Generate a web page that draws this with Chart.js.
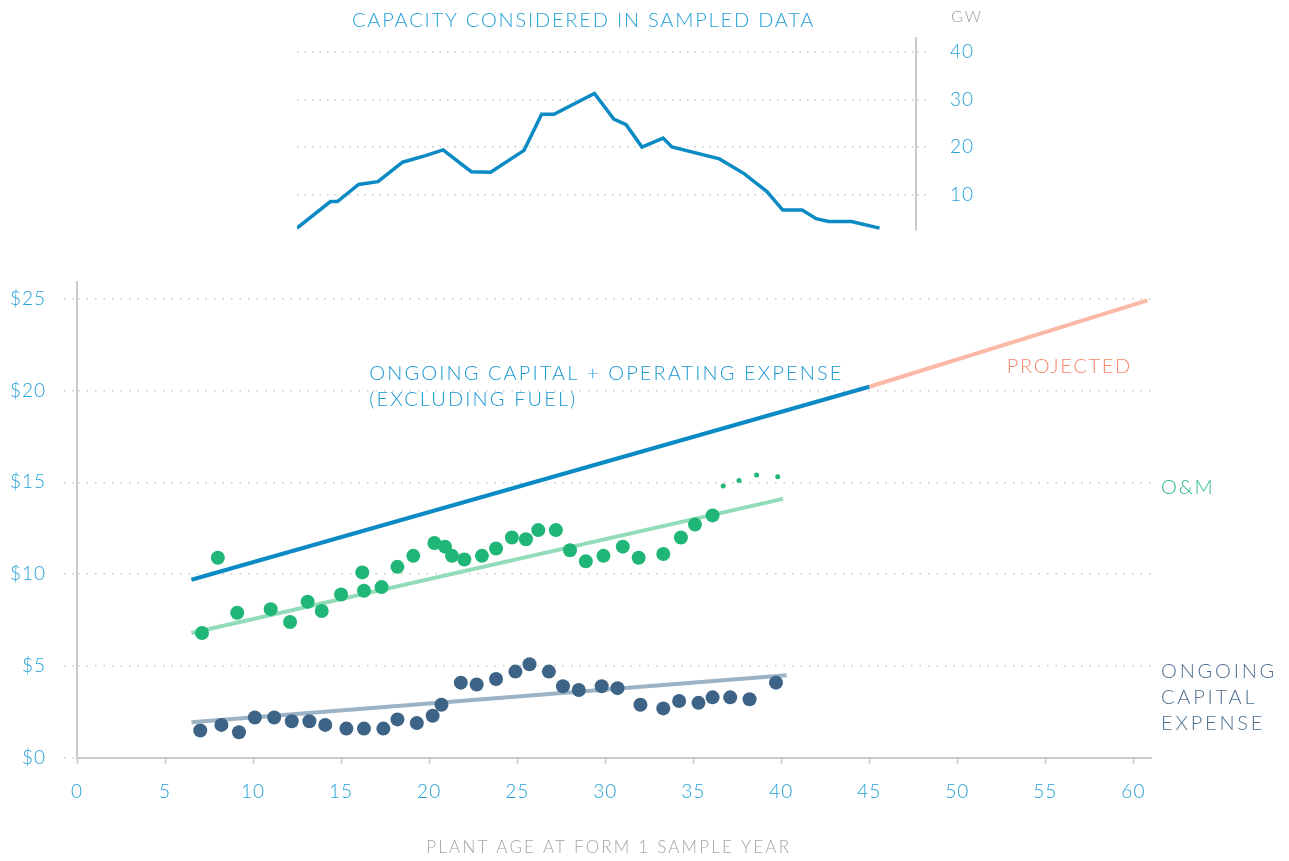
<!DOCTYPE html>
<html>
<head>
<meta charset="utf-8">
<script src="https://cdn.jsdelivr.net/npm/chart.js@4"></script>
<style>
  body { margin: 0; background: #fff; }
  .wrap { position: relative; width: 1289px; height: 861px; }
  canvas { position: absolute; left: 0; }
  #capacity { top: 0; }
  #costs { top: 250px; }
</style>
</head>
<body>
<div class="wrap">
  <canvas id="capacity" width="1289" height="250"></canvas>
  <canvas id="costs" width="1289" height="611"></canvas>
</div>
<script>
// capacity in sample (GW) by plant age
const capAge = [12.5, 14.4, 14.8, 16.0, 17.1, 18.5, 19.8, 20.8, 22.4, 23.5, 25.4, 26.4, 27.1, 29.4,
                30.5, 31.2, 32.1, 33.3, 33.8, 36.5, 37.9, 39.2, 40.1, 41.2, 42.0, 42.7, 44.0, 45.6];
const capGW  = [2.9, 8.5, 8.5, 12.1, 12.7, 16.8, 18.2, 19.4, 14.8, 14.7, 19.3, 26.9, 26.9, 31.3,
                25.9, 24.7, 20.0, 21.9, 20.0, 17.5, 14.4, 10.6, 6.7, 6.7, 4.9, 4.3, 4.3, 2.9];
const gwTicks = [10, 20, 30, 40];

// O&M cost points ($/kW-yr)
const omAge = [7.1, 8.0, 9.1, 11.0, 12.1, 13.1, 13.9, 15.0, 16.2, 16.3, 17.3, 18.2, 19.1, 20.3, 20.9,
               21.3, 22.0, 23.0, 23.8, 24.7, 25.5, 26.2, 27.2, 28.0, 28.9, 29.9, 31.0, 31.9, 33.3,
               34.3, 35.1, 36.1];
const omCost = [6.8, 10.9, 7.9, 8.1, 7.4, 8.5, 8.0, 8.9, 10.1, 9.1, 9.3, 10.4, 11.0, 11.7, 11.5,
                11.0, 10.8, 11.0, 11.4, 12.0, 11.9, 12.4, 12.4, 11.3, 10.7, 11.0, 11.5, 10.9, 11.1,
                12.0, 12.7, 13.2];
const omThinAge = [36.7, 37.6, 38.6, 39.8];
const omThinCost = [14.8, 15.1, 15.4, 15.3];

// ongoing capital expense points
const capexAge = [7.0, 8.2, 9.2, 10.1, 11.2, 12.2, 13.2, 14.1, 15.3, 16.3, 17.4, 18.2, 19.3, 20.2,
                  20.7, 21.8, 22.7, 23.8, 24.9, 25.7, 26.8, 27.6, 28.5, 29.8, 30.7, 32.0, 33.3,
                  34.2, 35.3, 36.1, 37.1, 38.2, 39.7];
const capexCost = [1.5, 1.8, 1.4, 2.2, 2.2, 2.0, 2.0, 1.8, 1.6, 1.6, 1.6, 2.1, 1.9, 2.3,
                   2.9, 4.1, 4.0, 4.3, 4.7, 5.1, 4.7, 3.9, 3.7, 3.9, 3.8, 2.9, 2.7,
                   3.1, 3.0, 3.3, 3.3, 3.2, 4.1];

// fitted trends
const totalAge = [6.5, 45];
const totalCost = [9.7, 20.2];
const projAge = [45, 60.8];
const projCost = [20.2, 24.9];
const omTrendAge = [6.5, 40.1];
const omTrendCost = [6.8, 14.1];
const capexTrendAge = [6.5, 40.3];
const capexTrendCost = [1.95, 4.5];

const ageTicks = [0, 5, 10, 15, 20, 25, 30, 35, 40, 45, 50, 55, 60];
const costTicks = [0, 5, 10, 15, 20, 25];

const pts = (xs, ys) => xs.map((x, i) => ({ x: x, y: ys[i] }));

const FONT = 'Lato, "Open Sans", sans-serif';
const BLUE = '#23a0d6';
const GRIDC = '#c9c9c9';
const AXISC = '#c7cad0';

function spacedText(ctx, text, x, y, opts) {
    ctx.save();
    ctx.font = opts.font;
    ctx.fillStyle = opts.color;
    ctx.letterSpacing = (opts.spacing || 0) + 'px';
    ctx.textAlign = opts.align || 'left';
    ctx.textBaseline = 'middle';
    ctx.fillText(text, x, y);
    ctx.restore();
}

// a little tracking on the tick labels too
const tracking = {
    id: 'tracking',
    beforeDraw(chart) { chart.ctx.letterSpacing = '1px'; },
    afterDraw(chart) { chart.ctx.letterSpacing = '0px'; }
};

// top: capacity line
const capLabels = {
    id: 'capLabels',
    afterDraw(chart) {
        const ctx = chart.ctx;
        spacedText(ctx, 'CAPACITY CONSIDERED IN SAMPLED DATA', 352, 21,
            { font: '300 20px ' + FONT, color: BLUE, spacing: 1.8 });
        spacedText(ctx, 'GW', 951, 17, { font: '300 16px ' + FONT, color: '#9a9ca0', spacing: 2 });
    }
};

new Chart(document.getElementById('capacity'), {
    type: 'line',
    data: {
        datasets: [{
            data: pts(capAge, capGW),
            borderColor: '#0b8ac4',
            borderWidth: 3.5,
            pointRadius: 0,
            tension: 0
        }]
    },
    options: {
        responsive: false,
        animation: false,
        layout: { padding: { left: 297, top: 38, bottom: 20, right: 0 } },
        plugins: { legend: { display: false }, tooltip: { enabled: false } },
        scales: {
            x: { type: 'linear', display: false, min: 12.5, max: 47.67 },
            y: {
                position: 'right',
                min: 2.5, max: 43,
                afterBuildTicks: s => { s.ticks = gwTicks.map(v => ({ value: v })); },
                afterFit: s => { s.width = 373; s.paddingTop = 0; s.paddingBottom = 0; },
                border: { display: true, color: AXISC, width: 2, dash: [1.5, 6] },
                grid: { color: GRIDC, lineWidth: 1.5, drawTicks: true, tickLength: 11,
                        tickColor: GRIDC, tickBorderDash: [1.5, 6] },
                ticks: { color: BLUE, padding: 23, font: { family: FONT, size: 19, weight: 300 } }
            }
        }
    },
    plugins: [tracking, capLabels]
});

// bottom: cost per kW by age
const costLabels = {
    id: 'costLabels',
    afterDraw(chart) {
        const ctx = chart.ctx;
        const x = chart.scales.x, y = chart.scales.y;
        const f = '300 20px ' + FONT;
        spacedText(ctx, 'ONGOING CAPITAL + OPERATING EXPENSE', x.getPixelForValue(16.6), y.getPixelForValue(20.9),
            { font: f, color: '#1b98d2', spacing: 2.1 });
        spacedText(ctx, '(EXCLUDING FUEL)', x.getPixelForValue(16.6), y.getPixelForValue(19.5),
            { font: f, color: '#1b98d2', spacing: 2.1 });
        spacedText(ctx, 'PROJECTED', x.getPixelForValue(52.8), y.getPixelForValue(21.3),
            { font: f, color: '#f5866b', spacing: 1.7 });
        const lx = chart.chartArea.right + 10;
        spacedText(ctx, 'O&M', lx, y.getPixelForValue(14.7), { font: f, color: '#2bbb83', spacing: 1.8 });
        ['ONGOING', 'CAPITAL', 'EXPENSE'].forEach((t, i) => {
            spacedText(ctx, t, lx, y.getPixelForValue(4.72) + i * 26, { font: f, color: '#4d6e8f', spacing: 2.8 });
        });
        spacedText(ctx, 'PLANT AGE AT FORM 1 SAMPLE YEAR', x.getPixelForValue(30.2), chart.height - 13,
            { font: '300 17px ' + FONT, color: '#a2a4a8', spacing: 2.2, align: 'center' });
    }
};

new Chart(document.getElementById('costs'), {
    type: 'scatter',
    data: {
        datasets: [
            { data: pts(capexAge, capexCost), backgroundColor: '#3d6486', pointRadius: 7, pointBorderWidth: 0, order: 1 },
            { data: pts(omAge, omCost), backgroundColor: '#20b678', pointRadius: 7, pointBorderWidth: 0, order: 1 },
            { data: pts(omThinAge, omThinCost), backgroundColor: '#20b678', pointRadius: 2.5, pointBorderWidth: 0, order: 1 },
            { type: 'line', data: pts(totalAge, totalCost), borderColor: '#0b8ac4', borderWidth: 4, pointRadius: 0, order: 2 },
            { type: 'line', data: pts(projAge, projCost), borderColor: '#fcb8a7', borderWidth: 4, pointRadius: 0, order: 2 },
            { type: 'line', data: pts(omTrendAge, omTrendCost), borderColor: '#92dcbb', borderWidth: 4, pointRadius: 0, order: 2 },
            { type: 'line', data: pts(capexTrendAge, capexTrendCost), borderColor: '#9cb2c5', borderWidth: 4, pointRadius: 0, order: 2 }
        ]
    },
    options: {
        responsive: false,
        animation: false,
        layout: { padding: { left: 0, top: 32, bottom: 0, right: 138 } },
        plugins: { legend: { display: false }, tooltip: { enabled: false } },
        scales: {
            x: {
                type: 'linear',
                min: 0, max: 61,
                afterBuildTicks: s => { s.ticks = ageTicks.map(v => ({ value: v })); },
                afterFit: s => { s.height = 103; },
                border: { color: AXISC, width: 2 },
                grid: { drawOnChartArea: false, drawTicks: true, tickLength: 6, tickColor: AXISC, tickWidth: 1.5 },
                ticks: { color: BLUE, padding: 16, font: { family: FONT, size: 19, weight: 300 } }
            },
            y: {
                min: 0, max: 25.9,
                afterBuildTicks: s => { s.ticks = costTicks.map(v => ({ value: v })); },
                afterFit: s => { s.width = 77; },
                border: { color: AXISC, width: 2, dash: [1.5, 7] },
                grid: { color: GRIDC, lineWidth: 1.5, drawTicks: true, tickLength: 13,
                        tickColor: GRIDC, tickBorderDash: [1.5, 7] },
                ticks: {
                    color: BLUE, padding: 18,
                    font: { family: FONT, size: 19, weight: 300 },
                    callback: v => '$' + v
                }
            }
        }
    },
    plugins: [tracking, costLabels]
});
</script>
</body>
</html>
